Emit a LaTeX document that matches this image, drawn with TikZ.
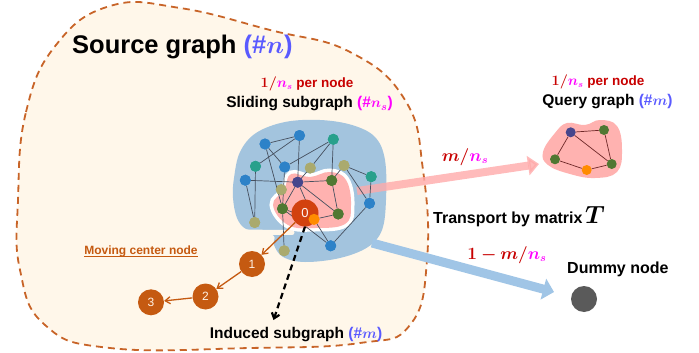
\documentclass[tikz,border=0pt]{standalone}
\usepackage{fontspec}
\usepackage{amsmath,bm}
\setmainfont{Liberation Sans}
\usetikzlibrary{arrows.meta}
\definecolor{creamc}{RGB}{255,247,234}
\definecolor{dashc}{RGB}{200,100,40}
\definecolor{blueblob}{RGB}{163,196,222}
\definecolor{pinkblob}{RGB}{255,178,176}
\definecolor{nblue}{RGB}{45,130,200}
\definecolor{nteal}{RGB}{40,160,140}
\definecolor{nolive}{RGB}{170,170,110}
\definecolor{ngreen}{RGB}{80,120,50}
\definecolor{nnavy}{RGB}{70,70,140}
\definecolor{norange}{RGB}{255,140,0}
\definecolor{rustc}{RGB}{197,90,17}
\definecolor{centerc}{RGB}{210,65,15}
\definecolor{violetc}{RGB}{90,90,255}
\definecolor{redc}{RGB}{200,0,0}
\definecolor{magc}{RGB}{255,0,255}
\definecolor{dummyc}{RGB}{90,90,90}
\definecolor{edgec}{RGB}{70,80,95}
\definecolor{qedgec}{RGB}{110,40,40}
\definecolor{arrowblue}{RGB}{160,197,230}
\definecolor{arrowpink}{RGB}{255,170,170}
\tikzset{
  nd/.style={circle, inner sep=0pt, minimum size=11pt},
  qn/.style={circle, inner sep=0pt, minimum size=10pt},
  edge/.style={edgec, line width=0.7pt},
  qedge/.style={qedgec, line width=0.7pt},
  mv/.style={circle, fill=rustc, inner sep=0pt, minimum size=26pt, text=white!90!orange, font=\fontsize{12}{12}\selectfont},
  mvarrow/.style={rustc, line width=1.3pt, -{Straight Barb[length=5pt,width=7pt]}},
  lbl/.style={font=\bfseries\fontsize{15.5}{17}\selectfont, inner sep=0pt},
  pn/.style={font=\bfseries\fontsize{13.5}{15}\selectfont, text=redc, inner sep=0pt},
}
\begin{document}
\begin{tikzpicture}[x=1pt,y=-1pt]
\useasboundingbox (0,0) rectangle (699,353);
\fill[white] (0,0) rectangle (699,353);
% source graph region
\fill[creamc] plot[smooth cycle, tension=0.75] coordinates {(18,200) (26,112) (56,45) (110,6) (180,8) (270,30) (350,52) (405,100) (423,170) (427,260) (410,325) (360,343) (250,348) (110,348) (45,325) (20,270)};
\draw[dashc, line width=1.8pt, dash pattern=on 7pt off 5pt] plot[smooth cycle, tension=0.75] coordinates {(18,200) (26,112) (56,45) (110,6) (180,8) (270,30) (350,52) (405,100) (423,170) (427,260) (410,325) (360,343) (250,348) (110,348) (45,325) (20,270)};
% blue sliding region
\fill[blueblob] plot[smooth cycle, tension=0.6] coordinates {(234,178) (240,152) (256,133) (285,122) (320,120) (352,125) (375,137) (385,160) (386,200) (382,230) (368,247) (340,258) (305,262) (283,257) (274,245) (274,236) (262,231) (246,229) (237,218) (233,198)};
\draw[creamc, line width=5pt, line cap=round] (233,232) -- (292,232.5);
% pink induced region
\draw[white, line width=7pt] plot[smooth cycle, tension=0.7] coordinates {(291,174) (310,177) (330,172) (346,180) (351,205) (345,224) (315,228) (288,225) (273,205) (284,190)};
\fill[pinkblob] plot[smooth cycle, tension=0.7] coordinates {(291,174) (310,177) (330,172) (346,180) (351,205) (345,224) (315,228) (288,225) (273,205) (284,190)};
% fat arrows
\coordinate (ps) at (357,191);
\coordinate (pe) at (539,164);
\coordinate (bs) at (372,243);
\coordinate (be) at (554,292);
\draw[arrowpink, opacity=0.8, line width=8pt, -{Triangle[length=11pt,width=19pt]}] (ps) -- (pe);
\draw[arrowblue, line width=9pt, -{Triangle[length=11pt,width=21pt]}] (bs) -- (be);
% graph nodes
\node[nd, fill=nblue] (A) at (265,144) {};
\node[nd, fill=nblue] (B) at (299.5,135.5) {};
\node[nd, fill=nteal] (C) at (333.3,139.3) {};
\node[nd, fill=nteal] (D) at (255.5,166.3) {};
\node[nd, fill=nblue] (E) at (284.7,167) {};
\node[nd, fill=nolive] (F) at (310.3,168) {};
\node[nd, fill=nolive] (G) at (344,165.5) {};
\node[nd, fill=nteal] (H) at (371.2,176.7) {};
\node[nd, fill=nblue] (I) at (245.3,180.2) {};
\node[nd, fill=nnavy] (J) at (297.7,182.2) {};
\node[nd, fill=ngreen] (K) at (331.7,180.5) {};
\node[nd, fill=nolive] (L) at (281.3,189.7) {};
\node[nd, fill=nblue] (M) at (369.5,203.3) {};
\node[nd, fill=ngreen] (N) at (282.5,208.7) {};
\node[nd, fill=ngreen] (Q) at (338.2,214) {};
\node[nd, fill=nolive] (R) at (254.7,222.5) {};
\node[nd, fill=nolive] (S) at (284.2,250.8) {};
\node[nd, fill=nblue] (T) at (330.7,245.8) {};
\node[nd, fill=norange] (P) at (314,219.3) {};
% edges
\draw[edge] (A) -- (B);
\draw[edge] (A) -- (E);
\draw[edge] (A) -- (N);
\draw[edge] (B) -- (D);
\draw[edge] (B) -- (J);
\draw[edge] (C) -- (E);
\draw[edge] (C) -- (F);
\draw[edge] (C) -- (K);
\draw[edge] (D) -- (R);
\draw[edge] (I) -- (R);
\draw[edge] (I) -- (J);
\draw[edge] (E) -- (N);
\draw[edge] (F) -- (J);
\draw[edge] (G) -- (K);
\draw[edge] (G) -- (H);
\draw[edge] (G) -- (M);
\draw[edge] (H) -- (M);
\draw[edge] (J) -- (K);
\draw[edge] (J) -- (N);
\draw[edge] (J) -- (Q);
\draw[edge] (J) -- (P);
\draw[edge] (N) -- (P);
\draw[edge] (N) -- (S);
\draw[edge] (N) -- (T);
\draw[edge] (P) -- (Q);
\draw[edge] (P) -- (T);
\draw[edge] (K) -- (Q);
\draw[edge] (T) -- (M);
% redraw nodes on top of edges
\foreach \n/\c in {A/nblue,B/nblue,C/nteal,D/nteal,E/nblue,F/nolive,G/nolive,H/nteal,I/nblue,J/nnavy,K/ngreen,L/nolive,M/nblue,N/ngreen,Q/ngreen,R/nolive,S/nolive,T/nblue}
  \fill[\c] (\n) circle (5.5pt);
% center node
\node[circle, fill=centerc, inner sep=0pt, minimum size=27pt, text=white!85!pink, font=\fontsize{13}{13}\selectfont] (O) at (305,213) {0};
\fill[norange] (P) circle (5.5pt);
% moving center nodes
\node[mv] (m1) at (252,264) {1};
\node[mv] (m2) at (205.5,296.5) {2};
\node[mv] (m3) at (151,302.3) {3};
\draw[mvarrow] (O) -- (m1);
\draw[mvarrow] (m1) -- (m2);
\draw[mvarrow] (m2) -- (m3);
% dashed induced arrow
\coordinate (de) at (273.5,320);
\draw[black, line width=2.2pt, dash pattern=on 6pt off 4pt, -{Straight Barb[length=5pt,width=8pt]}] (O.south) -- (de);
% query graph
\fill[pinkblob] plot[smooth cycle, tension=0.7] coordinates {(543,152) (555,133) (567,123) (585,125) (600,120) (617,126) (622,150) (617,172) (595,178) (570,174) (548,165)};
\node[qn, fill=nnavy] (q1) at (570.7,132.3) {};
\node[qn, fill=ngreen] (q2) at (604,130) {};
\node[qn, fill=ngreen] (q3) at (555,159.3) {};
\node[qn, fill=ngreen] (q4) at (611.7,164) {};
\node[qn, fill=norange] (q5) at (586.7,170) {};
\draw[qedge] (q1) -- (q2);
\draw[qedge] (q1) -- (q3);
\draw[qedge] (q1) -- (q4);
\draw[qedge] (q2) -- (q4);
\draw[qedge] (q3) -- (q5);
\draw[qedge] (q5) -- (q4);
% dummy node
\node[circle, fill=dummyc, inner sep=0pt, minimum size=26pt] (dum) at (584,299) {};
% texts
\node[anchor=west, inner sep=0pt, font=\bfseries\fontsize{25.5}{27}\selectfont] (title) at (72,47) {Source graph {\color{violetc}(\#$\bm{n}$)}};
\node[pn] (pn1) at (307,84) {$\bm{1/}${\color{magc}$\bm{n_s}$} per node};
\node[lbl] (sl) at (309.5,104) {Sliding subgraph {\color{magc}(\#$\bm{n_s}$)}};
\node[pn] (pn2) at (598,82) {$\bm{1/}${\color{magc}$\bm{n_s}$} per node};
\node[lbl] (qg) at (607.5,102) {Query graph {\color{violetc}(\#$\bm{m}$)}};
\node[inner sep=0pt, text=redc, font=\fontsize{16}{18}\selectfont] (mn) at (465,157) {$\bm{m/}${\color{magc}$\bm{n_s}$}};
\node[anchor=base west, inner sep=0pt, font=\bfseries\fontsize{16}{18}\selectfont] (tr) at (433,223) {Transport by matrix\,{\fontsize{30}{30}\selectfont$\bm{T}$}};
\node[inner sep=0pt, text=redc, font=\fontsize{16}{18}\selectfont] (om) at (507,255) {$\bm{1-m/}${\color{magc}$\bm{n_s}$}};
\node[anchor=base west, inner sep=0pt, font=\bfseries\fontsize{16}{18}\selectfont] (dl) at (567,273) {Dummy node};
\node[lbl] (ind) at (296,335) {Induced subgraph {\color{violetc}(\#$\bm{m}$)}};
\node[inner sep=0pt, text=rustc, font=\bfseries\fontsize{12}{14}\selectfont] (mc) at (141,251) {Moving center node};
\draw[rustc, line width=0.9pt] ([yshift=-2pt]mc.base west) -- ([yshift=-2pt]mc.base east);
\end{tikzpicture}
\end{document}
